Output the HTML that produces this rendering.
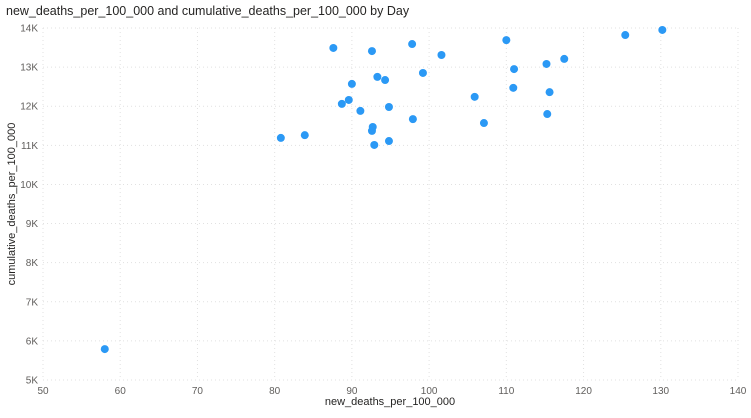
<!DOCTYPE html>
<html><head><meta charset="utf-8"><style>
body{margin:0;background:#fff;width:751px;height:413px;overflow:hidden;font-family:"Liberation Sans",sans-serif}
</style></head><body>
<svg id="chart" width="751" height="413" xmlns="http://www.w3.org/2000/svg">
<text x="6" y="15" font-size="12.5" fill="#252423">new_deaths_per_100_000 and cumulative_deaths_per_100_000 by Day</text>
<g id="grid"></g>
<g id="ticks"></g>
<g id="points"></g>
<text x="390" y="405" font-size="11" fill="#252423" text-anchor="middle">new_deaths_per_100_000</text>
<text transform="translate(15,204) rotate(-90)" font-size="11" fill="#252423" text-anchor="middle">cumulative_deaths_per_100_000</text>
</svg>
<script>
const xTicks=[50,60,70,80,90,100,110,120,130,140];
const yTicks=[5,6,7,8,9,10,11,12,13,14];
const newDeaths=[58.0,80.8,83.9,87.6,88.7,89.6,90.0,91.1,92.6,92.6,92.7,92.9,93.3,94.3,94.8,94.8,97.8,97.9,99.2,101.6,105.9,107.1,110.0,110.9,111.0,115.2,115.3,115.6,117.5,125.4,130.2];
const cumDeaths=[5.79,11.19,11.26,13.49,12.06,12.16,12.57,11.88,13.41,11.37,11.47,11.01,12.75,12.67,11.98,11.11,13.59,11.67,12.85,13.31,12.24,11.57,13.69,12.47,12.95,13.08,11.80,12.36,13.21,13.82,13.95];
const L=43,R=738,T=28,B=380;
const xs=v=>L+(v-50)/(140-50)*(R-L);
const ys=v=>B-(v-5)/(14-5)*(B-T);
const NS="http://www.w3.org/2000/svg";
const g=document.getElementById('grid'),tk=document.getElementById('ticks'),pts=document.getElementById('points');
function mk(tag,attrs,parent){const e=document.createElementNS(NS,tag);for(const k in attrs)e.setAttribute(k,attrs[k]);parent.appendChild(e);return e;}
xTicks.forEach(v=>{
 const l=mk('line',{x1:xs(v),x2:xs(v),y1:T,y2:B,stroke:'#e1e1e1','stroke-dasharray':'1,3'},g);
 
 
 const t=mk('text',{x:xs(v),y:394,'font-size':10,fill:'#605e5c','text-anchor':'middle'},tk);
 t.textContent=v;
 
 
});
yTicks.forEach(v=>{
 const l=mk('line',{x1:L,x2:R,y1:ys(v),y2:ys(v),stroke:'#e1e1e1','stroke-dasharray':'1,3'},g);
 
 
 const t=mk('text',{x:38,y:ys(v)+3.5,'font-size':10,fill:'#605e5c','text-anchor':'end'},tk);
 t.textContent=v+'K';
 
 
});
newDeaths.forEach((v,i)=>{
 const c=mk('circle',{cx:xs(v),cy:ys(cumDeaths[i]),r:4,fill:'#2b99f5'},pts);
 
 
});
</script>
</body></html>
